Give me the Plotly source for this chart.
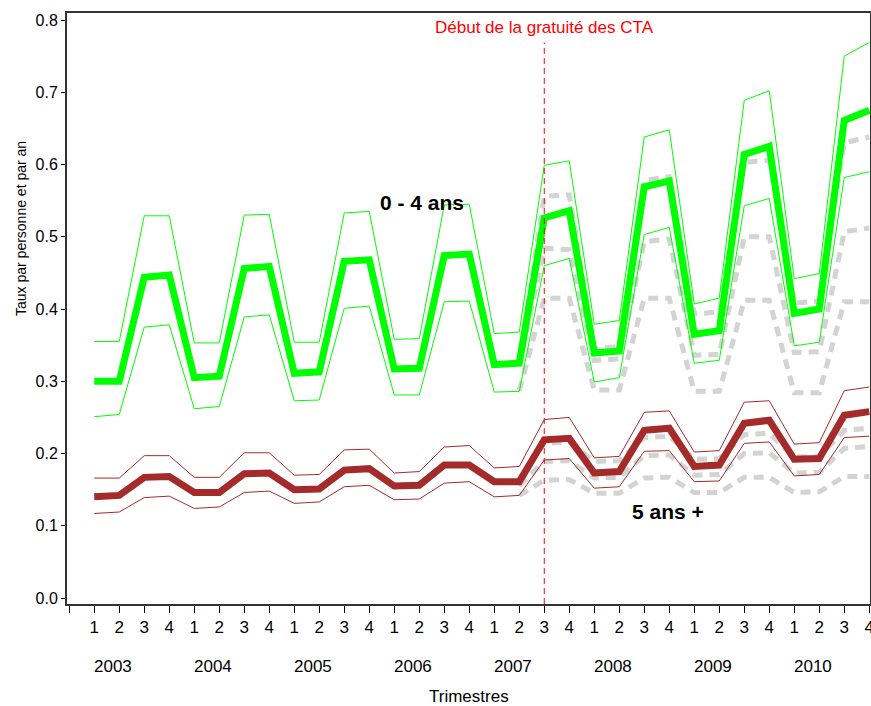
import plotly.graph_objects as go

quarters = list(range(1, 33))
quarter_labels = ["1", "2", "3", "4"] * 8
years = ["2003", "2004", "2005", "2006", "2007", "2008", "2009", "2010"]

green_mid = [0.300, 0.300, 0.444, 0.447, 0.305, 0.307, 0.456, 0.459,
             0.311, 0.313, 0.466, 0.468, 0.317, 0.318, 0.474, 0.476,
             0.323, 0.325, 0.526, 0.536, 0.339, 0.342, 0.569, 0.577,
             0.365, 0.370, 0.614, 0.625, 0.394, 0.400, 0.661, 0.675]
green_up = [0.355, 0.355, 0.529, 0.529, 0.353, 0.353, 0.530, 0.531,
            0.354, 0.354, 0.533, 0.535, 0.358, 0.359, 0.544, 0.545,
            0.366, 0.368, 0.599, 0.605, 0.379, 0.384, 0.638, 0.648,
            0.407, 0.415, 0.689, 0.702, 0.442, 0.449, 0.750, 0.769]
green_lo = [0.251, 0.254, 0.375, 0.378, 0.262, 0.265, 0.389, 0.392,
            0.273, 0.274, 0.401, 0.404, 0.281, 0.281, 0.410, 0.411,
            0.285, 0.286, 0.460, 0.470, 0.299, 0.305, 0.503, 0.513,
            0.325, 0.329, 0.543, 0.553, 0.349, 0.354, 0.582, 0.590]

brown_mid = [0.140, 0.142, 0.167, 0.168, 0.146, 0.146, 0.172, 0.173,
             0.150, 0.151, 0.177, 0.179, 0.155, 0.156, 0.184, 0.184,
             0.161, 0.161, 0.219, 0.221, 0.173, 0.175, 0.232, 0.235,
             0.182, 0.184, 0.242, 0.246, 0.192, 0.193, 0.253, 0.258]
brown_up = [0.166, 0.166, 0.197, 0.197, 0.167, 0.167, 0.201, 0.201,
            0.170, 0.171, 0.205, 0.206, 0.173, 0.175, 0.209, 0.211,
            0.180, 0.182, 0.247, 0.250, 0.194, 0.196, 0.257, 0.259,
            0.202, 0.204, 0.271, 0.273, 0.213, 0.215, 0.287, 0.292]
brown_lo = [0.117, 0.119, 0.139, 0.141, 0.124, 0.126, 0.146, 0.148,
            0.131, 0.133, 0.154, 0.156, 0.136, 0.137, 0.159, 0.161,
            0.140, 0.142, 0.191, 0.193, 0.152, 0.154, 0.203, 0.204,
            0.161, 0.162, 0.214, 0.216, 0.169, 0.171, 0.222, 0.224]

# counterfactual (gray dashed) from 2007 Q2 onward
cf_quarters = list(range(18, 33))
cf_green_up = [0.330, 0.556, 0.558, 0.345, 0.348, 0.578, 0.583, 0.393,
               0.396, 0.603, 0.606, 0.408, 0.411, 0.630, 0.638]
cf_green_mid = [0.322, 0.484, 0.482, 0.329, 0.331, 0.493, 0.497, 0.336,
                0.337, 0.500, 0.500, 0.340, 0.341, 0.507, 0.512]
cf_green_lo = [0.287, 0.415, 0.415, 0.288, 0.288, 0.415, 0.415, 0.286,
               0.286, 0.412, 0.412, 0.284, 0.284, 0.410, 0.410]
cf_brown_up = [0.165, 0.214, 0.216, 0.189, 0.190, 0.222, 0.224, 0.192,
               0.193, 0.226, 0.228, 0.195, 0.196, 0.232, 0.235]
cf_brown_mid = [0.155, 0.189, 0.190, 0.166, 0.167, 0.197, 0.198, 0.170,
                0.171, 0.200, 0.201, 0.173, 0.174, 0.207, 0.210]
cf_brown_lo = [0.142, 0.163, 0.164, 0.145, 0.145, 0.166, 0.167, 0.146,
               0.146, 0.167, 0.167, 0.146, 0.147, 0.168, 0.168]

GREEN = "#00ff00"
BROWN = "#a52a2a"
GRAY = "#d3d3d3"
FONT = "Liberation Sans, Arial, sans-serif"

fig = go.Figure()

for ys in [cf_green_up, cf_green_mid, cf_green_lo, cf_brown_up, cf_brown_mid, cf_brown_lo]:
    fig.add_trace(go.Scatter(x=cf_quarters, y=ys, mode="lines",
                             line=dict(color=GRAY, width=5, dash="10px,7px"),
                             hoverinfo="skip", showlegend=False))

for ys in [green_up, green_lo]:
    fig.add_trace(go.Scatter(x=quarters, y=ys, mode="lines",
                             line=dict(color=GREEN, width=1), showlegend=False))
for ys in [brown_up, brown_lo]:
    fig.add_trace(go.Scatter(x=quarters, y=ys, mode="lines",
                             line=dict(color=BROWN, width=1), showlegend=False))

fig.add_trace(go.Scatter(x=quarters, y=green_mid, mode="lines",
                         line=dict(color=GREEN, width=7), showlegend=False))
fig.add_trace(go.Scatter(x=quarters, y=brown_mid, mode="lines",
                         line=dict(color=BROWN, width=7), showlegend=False))

# vertical marker at 2007 Q3
fig.add_shape(type="line", xref="x", yref="paper", x0=19, x1=19, y0=0, y1=0.95,
              line=dict(color="red", width=1, dash="6px,4px"))

annotations = []
annotations.append(dict(x=19, y=0.975, xref="x", yref="paper", text="Début de la gratuité des CTA",
                        xanchor="center", yanchor="middle",
                        showarrow=False, font=dict(color="red", size=17, family=FONT)))
annotations.append(dict(x=14.12, y=0.548, xref="x", yref="y", text="<b>0 - 4 ans</b>",
                        xanchor="center", yanchor="middle",
                        showarrow=False, font=dict(color="black", size=21, family=FONT)))
annotations.append(dict(x=23.96, y=0.1195, xref="x", yref="y", text="<b>5 ans +</b>",
                        xanchor="center", yanchor="middle",
                        showarrow=False, font=dict(color="black", size=21, family=FONT)))
for i, yr in enumerate(years):
    annotations.append(dict(x=1.76 + 4 * i, y=-0.105, xref="x", yref="paper", text=yr,
                            xanchor="center", yanchor="middle",
                            showarrow=False, font=dict(color="black", size=17, family=FONT)))
annotations.append(dict(x=0.5, y=-0.157, xref="paper", yref="paper", text="Trimestres",
                        xanchor="center", yanchor="middle",
                        showarrow=False, font=dict(color="black", size=17, family=FONT)))
annotations.append(dict(x=-0.0573, y=(604 - 228) / 591, xref="paper", yref="paper",
                        xanchor="center", yanchor="middle",
                        text="Taux par personne et par an", textangle=-90,
                        showarrow=False, font=dict(color="black", size=14, family=FONT)))

fig.update_layout(
    width=871, height=706,
    margin=dict(l=67, r=1, t=13, b=102),
    paper_bgcolor="white", plot_bgcolor="white",
    font=dict(family=FONT, size=16, color="black"),
    annotations=annotations,
    showlegend=False,
)
fig.update_xaxes(
    range=[-0.09, 32.03], automargin=False,
    tickmode="array", tickvals=list(range(0, 33)), ticktext=[""] + quarter_labels,
    ticks="outside", ticklen=7, tickwidth=1, tickcolor="black",
    ticklabeloverflow="allow",
    showline=True, linecolor="#333333", linewidth=2, mirror=True,
    showgrid=False, zeroline=False,
    tickfont=dict(size=17, family=FONT),
)
fig.update_yaxes(
    range=[-0.0083, 0.8097], automargin=False,
    tickmode="array", tickvals=[0, 0.1, 0.2, 0.3, 0.4, 0.5, 0.6, 0.7, 0.8],
    ticktext=["0.0", "0.1", "0.2", "0.3", "0.4", "0.5", "0.6", "0.7", "0.8"],
    ticks="outside", ticklen=4, tickwidth=1, tickcolor="black",
    showline=True, linecolor="#333333", linewidth=2, mirror=True,
    showgrid=False, zeroline=False,
    tickfont=dict(size=16, family=FONT),
)

fig.write_html("out.html", config={"displayModeBar": False},
               post_script="document.body.style.margin='0';")
